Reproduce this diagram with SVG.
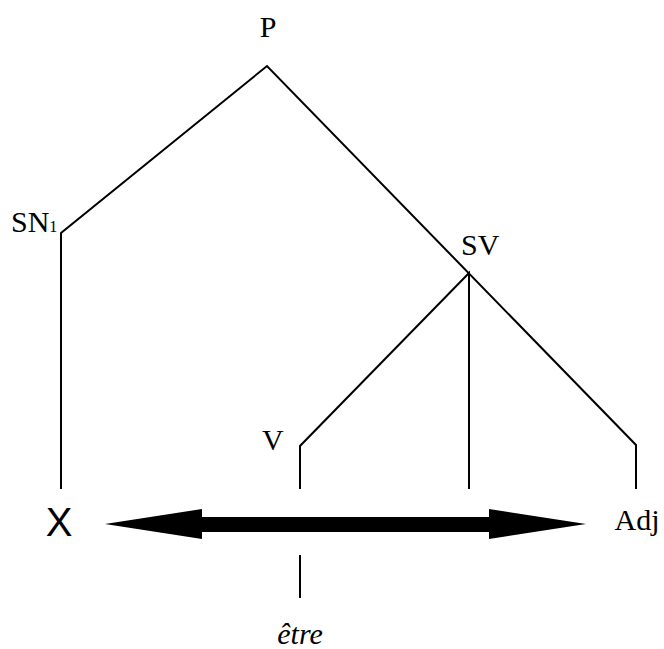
<svg xmlns="http://www.w3.org/2000/svg" width="664" height="649" viewBox="0 0 664 649">
<style>
.lbl{font-family:"Liberation Serif","Times New Roman",serif;font-size:30px;fill:#000}
.ln{stroke:#000;stroke-width:2;fill:none}
</style>
<rect width="664" height="649" fill="#fff"/>
<g id="connectors">
<polyline class="ln" points="61,489 61,233 267,66 636,445 636,489"/>
<polyline class="ln" points="300,489 300,446 469,273 469,489"/>
<line class="ln" x1="300" y1="555" x2="300" y2="598"/>
<polygon id="arrow" fill="#000" points="105,524 202,509 202,517 489,517 489,509 586,524 489,539 489,532 202,532 202,539"/>
</g>
<g id="P"><text class="lbl" x="268" y="37" text-anchor="middle">P</text></g>
<g id="SN1"><text class="lbl" x="11" y="232">SN<tspan font-size="16">1</tspan></text></g>
<g id="SV"><text class="lbl" x="461" y="255">SV</text></g>
<g id="V"><text class="lbl" x="262" y="450">V</text></g>
<g id="X"><text x="59" y="536" text-anchor="middle" font-family="Liberation Sans,Arial,sans-serif" font-size="40">X</text></g>
<g id="Adj"><text class="lbl" x="637" y="530" text-anchor="middle">Adj</text></g>
<g id="etre"><text class="lbl" x="300" y="644" text-anchor="middle" font-style="italic" font-size="29">être</text></g>
</svg>
